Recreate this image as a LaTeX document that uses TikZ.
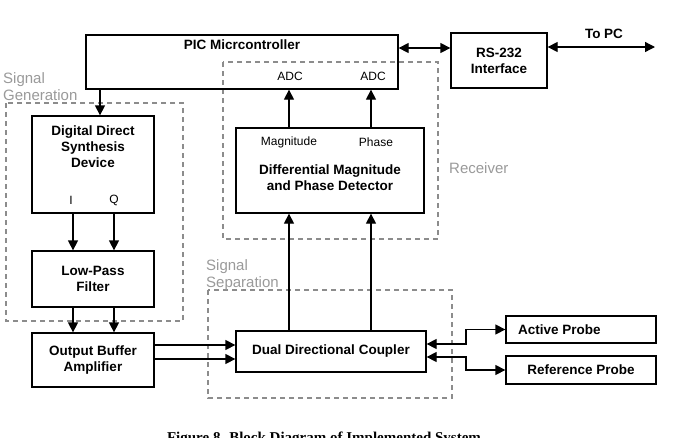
\documentclass[tikz,border=0pt]{standalone}
\usepackage{fontspec}
\setmainfont{Liberation Sans}
\newfontfamily\capfont{Liberation Serif}
\usetikzlibrary{arrows.meta}
\definecolor{grp}{HTML}{8C8C8C}
\definecolor{grl}{HTML}{9A9A9A}
\tikzset{
  box/.style={draw=black, line width=1.3pt, inner sep=0pt, align=center, font=\fontsize{13.5}{16}\selectfont\bfseries},
  grpbox/.style={draw=grp, line width=1.2pt, dash pattern=on 5pt off 4pt},
  grplabel/.style={text=grl, font=\fontsize{15}{17}\selectfont, anchor=west, inner sep=0pt, align=left},
  small/.style={font=\fontsize{12}{14}\selectfont, inner sep=0pt},
  ttl/.style={font=\fontsize{13.5}{16}\selectfont\bfseries, inner sep=0pt, align=center},
  arr/.style={line width=1.3pt, -{Triangle[length=10pt,width=10pt]}},
  dbl/.style={line width=1.3pt, {Triangle[length=10pt,width=10pt]}-{Triangle[length=10pt,width=10pt]}}
}
\begin{document}
\begin{tikzpicture}[x=1pt,y=-1pt]
\useasboundingbox (0,0) rectangle (686,437);
\clip (0,0) rectangle (686,437);
\fill[white] (0,0) rectangle (686,437);
% group frames
\draw[grpbox] (6,103) rectangle (183,321);
\draw[grpbox] (223,62) rectangle (438,239);
\draw[grpbox] (208,290) rectangle (452,398);
\node[grplabel] (lsg) at (3,87) {Signal\\Generation};
\node[grplabel] (lrc) at (449,168) {Receiver};
\node[grplabel] (lss) at (206,275) {Signal\\Separation};
% boxes
\node[box, minimum width=312pt, minimum height=54pt] (pic) at (242,62) {};
\node[ttl] (pict) at (242,45) {PIC Micrcontroller};
\node[small] (adc1) at (290,76) {ADC};
\node[small] (adc2) at (373,76) {ADC};
\node[box, minimum width=96pt, minimum height=55pt] (rs) at (499,60.5) {RS-232\\Interface};
\node[box, minimum width=188pt, minimum height=85pt] (det) at (330,170.5) {};
\node[small] (mag) at (289,142) {Magnitude};
\node[small] (pha) at (376,142) {Phase};
\node[ttl] (dett) at (330,178) {Differential Magnitude\\and Phase Detector};
\node[box, minimum width=122pt, minimum height=97pt] (dds) at (93,164.5) {};
\node[ttl] (ddst) at (93,147) {Digital Direct\\Synthesis\\Device};
\node[small] (li) at (71,200) {I};
\node[small] (lq) at (114,200) {Q};
\node[box, minimum width=122pt, minimum height=56pt] (lpf) at (93,279) {Low-Pass\\Filter};
\node[box, minimum width=122pt, minimum height=54pt] (oba) at (93,360) {Output Buffer\\Amplifier};
\node[box, minimum width=190pt, minimum height=41pt] (cpl) at (331,351.5) {Dual Directional Coupler};
\node[box, minimum width=150pt, minimum height=27pt] (act) at (581,329.5) {};
\node[ttl, anchor=west] (actt) at (518,330) {Active Probe};
\node[box, minimum width=150pt, minimum height=28pt] (ref) at (581,370) {Reference Probe};
\node[ttl] (pct) at (604,34) {To PC};
\coordinate (pc) at (655,47);
\coordinate (ja) at (466,344);
\coordinate (jr) at (466,357);
% connectors
\draw[arr] (pic.south -| 100,0) -- (dds.north -| 100,0);
\draw[arr] (dds.south -| 73,0) -- (lpf.north -| 73,0);
\draw[arr] (dds.south -| 114,0) -- (lpf.north -| 114,0);
\draw[arr] (lpf.south -| 73,0) -- (oba.north -| 73,0);
\draw[arr] (lpf.south -| 114,0) -- (oba.north -| 114,0);
\draw[arr] (oba.east |- 0,345) -- (cpl.west |- 0,345);
\draw[arr] (oba.east |- 0,359) -- (cpl.west |- 0,359);
\draw[arr] (cpl.north -| 289,0) -- (det.south -| 289,0);
\draw[arr] (cpl.north -| 371,0) -- (det.south -| 371,0);
\draw[arr] (det.north -| 289,0) -- (pic.south -| 289,0);
\draw[arr] (det.north -| 371,0) -- (pic.south -| 371,0);
\draw[dbl] (pic.east |- 0,48) -- (rs.west |- 0,48);
\draw[dbl] (rs.east |- pc) -- (pc);
\draw[dbl] (cpl.east |- ja) -- (ja) |- (act.west);
\draw[dbl] (cpl.east |- jr) -- (jr) |- (ref.west);
% caption (cut off at the bottom edge, as in the reference)
\node[font=\capfont\fontsize{15}{17}\selectfont\bfseries, anchor=base, inner sep=0pt] (cap) at (324,442) {Figure 8. Block Diagram of Implemented System};
\end{tikzpicture}
\end{document}
